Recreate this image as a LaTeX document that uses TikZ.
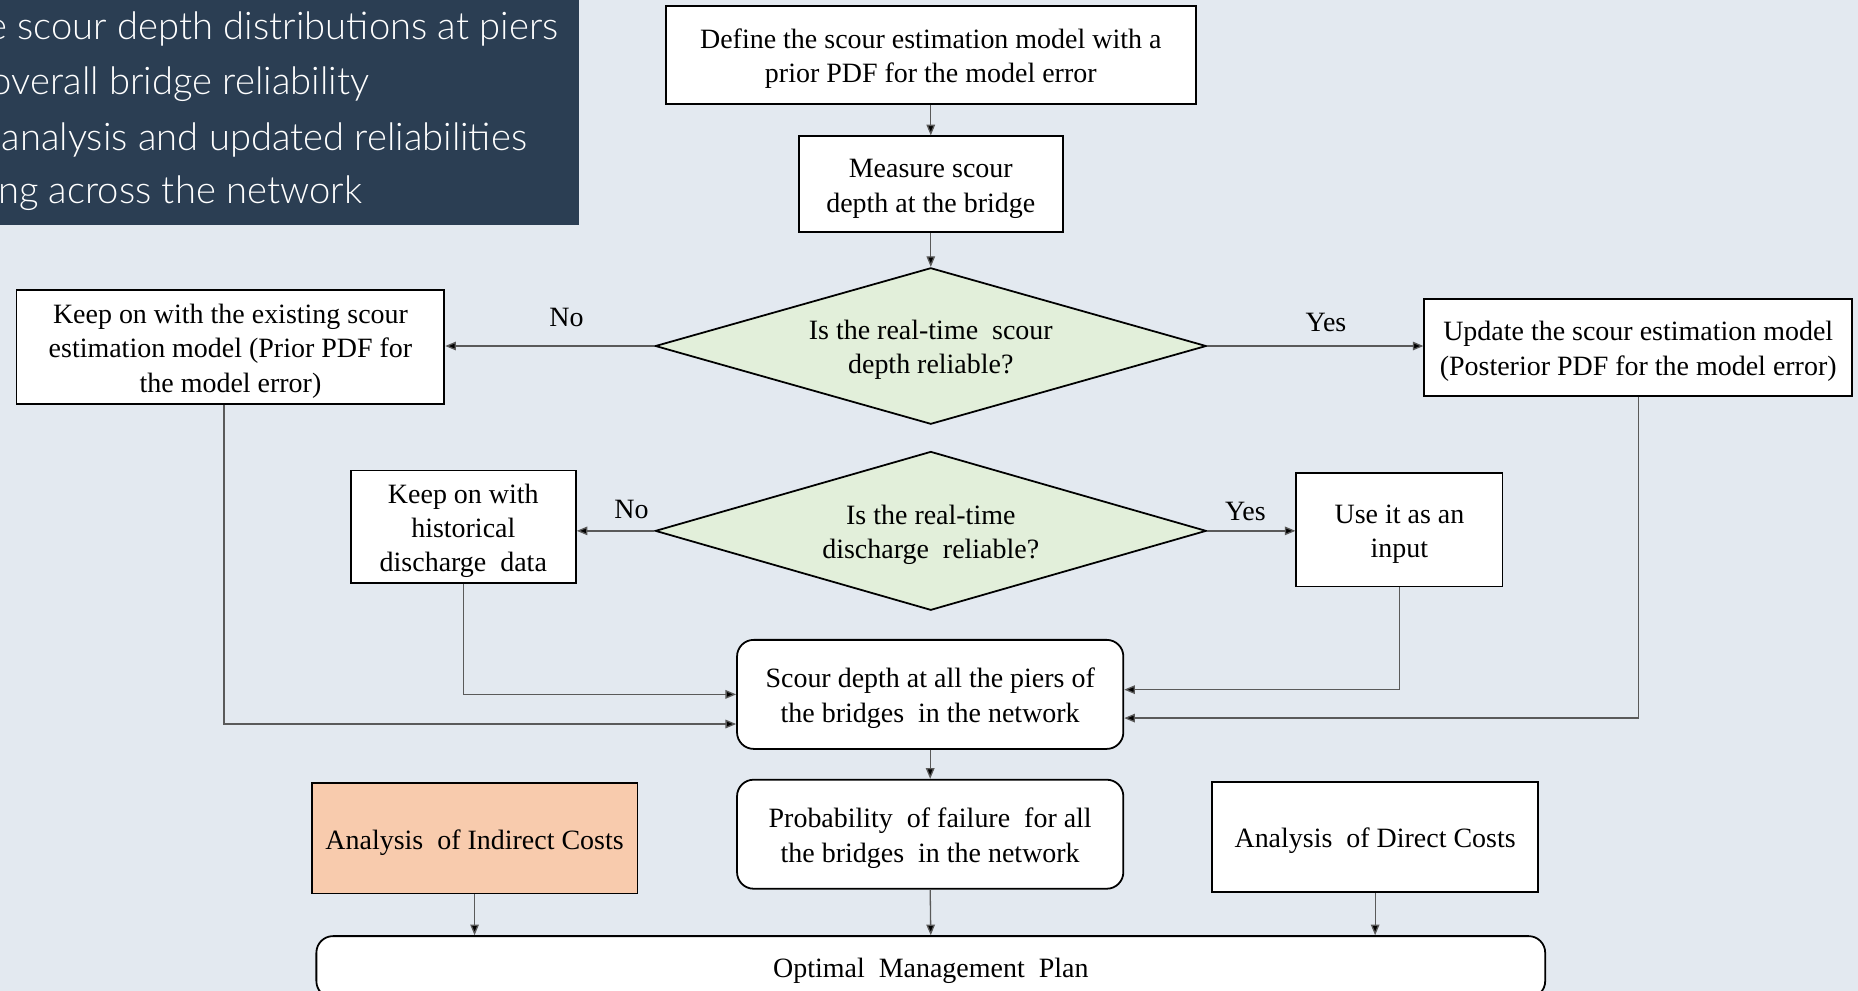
\documentclass[tikz,border=0pt]{standalone}
\usepackage{fontspec}
\setmainfont{Liberation Serif}
\newfontfamily\lightsans{Lato}[UprightFont=* Light]
\usetikzlibrary{shapes.geometric,arrows.meta}
\definecolor{bgc}{HTML}{E3E9F0}
\definecolor{darkc}{HTML}{2B3E53}
\definecolor{dgreen}{HTML}{E2EFDA}
\definecolor{peach}{HTML}{F8CBAD}
\definecolor{linec}{HTML}{5A5A5A}
\newcommand\tx[1]{\raisebox{-1.6pt}[\height][\depth]{\begin{tabular}{@{}c@{}}#1\end{tabular}}}
\tikzset{
  txt/.style={font=\fontsize{11.8}{14.5}\selectfont, align=center, text=black},
  bx/.style={draw=black, line width=0.75pt, fill=white, txt, inner sep=2pt},
  rnd/.style={rounded corners=7pt},
  dia/.style={diamond, draw=black, line width=0.75pt, fill=dgreen, txt, inner sep=0pt},
  conn/.style={draw=linec, line width=0.55pt, -{Triangle[length=4.5pt,width=3.6pt,fill=black]}},
  lbl/.style={txt},
  side/.style={font=\lightsans\fontsize{16.1}{20}\selectfont, text=white, anchor=base west, inner sep=0pt}
}
\begin{document}
\begin{tikzpicture}[x=0.5pt,y=-0.5pt]
\useasboundingbox (0,0) rectangle (1568,836);
\fill[bgc] (0,0) rectangle (1568,836);
\fill[darkc] (0,0) rectangle (489,190);
\node[side] (s1) at (-11,33) {e scour depth distributions at piers};
\node[side] (s2) at (-8,80) {overall bridge reliability};
\node[side] (s3) at (1,127) {analysis and updated reliabilities};
\node[side] (s4) at (-2,172) {ng across the network};

\node[bx, minimum width=223.5pt, minimum height=41.5pt] (def) at (785.5,46.5) {\tx{Define the scour estimation model with a\\prior PDF for the model error}};
\node[bx, minimum width=111.5pt, minimum height=40.5pt] (meas) at (785.5,155.5) {\tx{Measure scour\\depth at the bridge}};
\node[dia, aspect=3.52, minimum width=232.5pt, minimum height=66pt] (d1) at (785.5,292) {\tx{Is the real-time\ \ scour\\depth reliable?}};
\node[bx, minimum width=180.5pt, minimum height=48pt] (keep) at (194.5,293) {\tx{Keep on with the existing scour\\estimation model (Prior PDF for\\the model error)}};
\node[bx, minimum width=180.5pt, minimum height=41pt] (upd) at (1382.5,293) {\tx{Update the scour estimation model\\(Posterior PDF for the model error)}};
\node[dia, aspect=3.47, minimum width=232.5pt, minimum height=67pt] (d2) at (785.5,448) {\tx{Is the real-time\\discharge\ \ reliable?}};
\node[bx, minimum width=95pt, minimum height=47.5pt] (hist) at (391,444.5) {\tx{Keep on with\\historical\\discharge\ \ data}};
\node[bx, minimum width=87pt, minimum height=48pt] (use) at (1181,447) {\tx{Use it as an\\input}};
\node[bx, rnd, minimum width=163pt, minimum height=46pt] (scour) at (785,586) {\tx{Scour depth at all the piers of\\the bridges\ \ in the network}};
\node[bx, rnd, minimum width=163pt, minimum height=46pt] (prob) at (785,704) {\tx{Probability\ \ of failure\ \ for all\\the bridges\ \ in the network}};
\node[bx, fill=peach, minimum width=137.5pt, minimum height=46.5pt] (ind) at (400.5,707.5) {\tx{Analysis\ \ of Indirect Costs}};
\node[bx, minimum width=137.5pt, minimum height=46.5pt] (dir) at (1160.5,706.5) {\tx{Analysis\ \ of Direct Costs}};
\node[bx, rnd, minimum width=518.5pt, minimum height=26pt] (opt) at (785.5,816) {\tx{Optimal\ \ Management\ \ Plan}};

\node[lbl] (no1) at (478,268) {No};
\node[lbl] (yes1) at (1119,272) {Yes};
\node[lbl] (no2) at (533,430) {No};
\node[lbl] (yes2) at (1051,432) {Yes};

\draw[conn] (def.south) -- (meas.north);
\draw[conn] (meas.south) -- (d1.north);
\draw[conn] (d1.west) -- (d1.west -| keep.east);
\draw[conn] (d1.east) -- (d1.east -| upd.west);
\draw[conn] (d2.west) -- (d2.west -| hist.east);
\draw[conn] (d2.east) -- (d2.east -| use.west);
\draw[conn] (hist.south) |- (scour.west);
\draw[conn] ([xshift=-2.75pt]keep.south) |- ([yshift=-12.5pt]scour.west);
\draw[conn] (use.south) |- ([yshift=2pt]scour.east);
\draw[conn] (upd.south) |- ([yshift=-10pt]scour.east);
\draw[conn] (scour.south) -- (prob.north);
\draw[conn] (ind.south) -- (ind.south |- opt.north);
\draw[conn] (prob.south) -- (opt.north);
\draw[conn] (dir.south) -- (dir.south |- opt.north);
\end{tikzpicture}
\end{document}
